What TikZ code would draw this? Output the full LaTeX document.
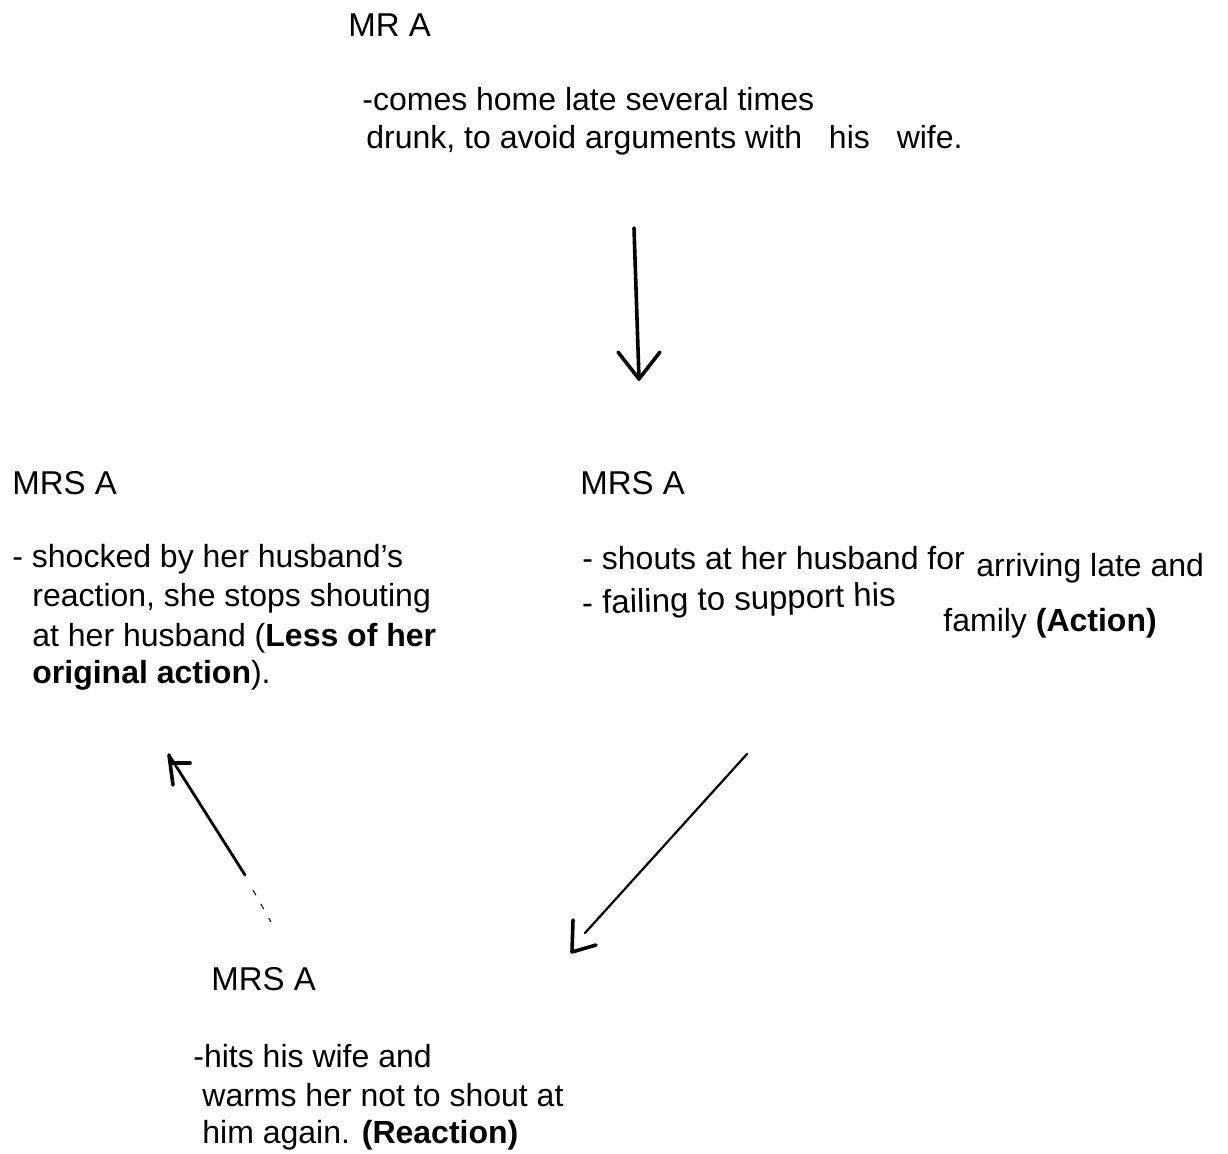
\documentclass[tikz,border=0pt]{standalone}
\usepackage{fontspec}
\setmainfont{Liberation Sans}
\begin{document}
\begin{tikzpicture}[x=0.5pt,y=-0.5pt,
  txtline/.style={anchor=base west,inner sep=0pt,font=\fontsize{16}{19}\selectfont},
  who/.style={txtline,font=\fontsize{16.5}{19}\selectfont},
  pen/.style={line width=1.8pt,line cap=round,line join=round},
  thinpen/.style={line width=1.1pt,line cap=round},
]
\fill[white] (0,0) rectangle (1228,1153);
\useasboundingbox (0,0) rectangle (1228,1153);

% Mr A
\node[who] (mrA) at (348,36) {MR A};
\node[txtline] (mrA1) at (362,110) {-comes home late several times};
\node[txtline] (mrA2) at (366,148) {drunk, to avoid arguments with\hspace{9pt} his\hspace{9pt} wife.};

% Mrs A: action
\node[who] (act) at (580,494) {MRS A};
\node[txtline] (act1) at (582,569) {- shouts at her husband for};
\node[txtline] (act1b) at (976,576) {arriving late and};
\node[txtline,font=\fontsize{16.5}{19}\selectfont,rotate=1.5] (act2) at (582,614) {- failing to support his};
\node[txtline] (act3) at (943,631) {family \textbf{(Action)}};

% Mrs A: less of the original action
\node[who] (less) at (12,494) {MRS A};
\node[txtline] (less1) at (12,567) {- shocked by her husband's};
\node[txtline] (less2) at (32,606) {reaction, she stops shouting};
\node[txtline] (less3) at (32,646) {at her husband (\textbf{Less of her}};
\node[txtline] (less4) at (32,683) {\textbf{original action}).};

% Mrs A: reaction
\node[who] (re) at (211,990) {MRS A};
\node[txtline] (re1) at (193,1067) {-hits his wife and};
\node[txtline] (re2) at (202,1106) {warms her not to shout at};
\node[txtline] (re3) at (202,1143) {him again. \textbf{(Reaction)}};

% hand-drawn arrows
\coordinate (d1) at (634,228);
\coordinate (d2) at (639,379);
\draw[pen] (d1) -- (d2);
\draw[pen] (d2) ++(-21,-27) -- (d2) -- ++(21,-27);

\coordinate (r1) at (747,754);
\coordinate (r2) at (585,933);
\coordinate (r3) at (572,952);
\draw[thinpen] (r1) -- (r2);
\draw[pen] (r3) ++(1,-32) -- (r3) -- ++(24,-7);

\coordinate (l1) at (245,875);
\coordinate (l2) at (169,755);
\coordinate (l3) at (253,890);
\coordinate (l4) at (271,922);
\draw[pen,line width=1.4pt] (l1) -- (l2);
\draw[pen] (l2) ++(4,30) -- (l2);
\draw[pen] (l2) ++(2,8) -- ++(19,0);
\draw[line width=0.5pt,dash pattern=on 3pt off 5pt] (l3) -- (l4);
\end{tikzpicture}
\end{document}
